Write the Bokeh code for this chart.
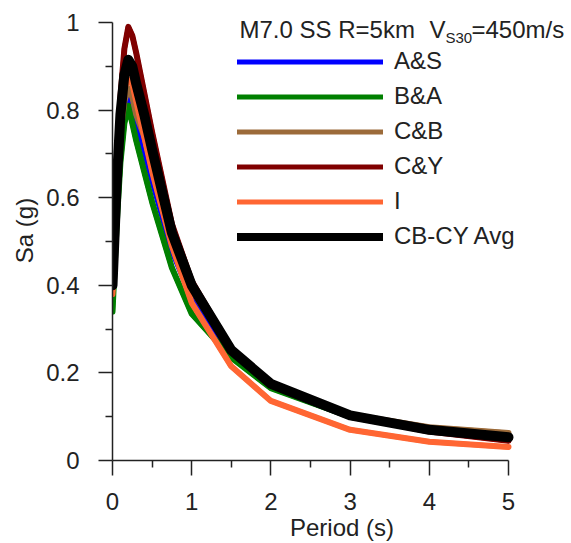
from bokeh.plotting import figure
from bokeh.models import Legend, LegendItem, Label, Range1d, FixedTicker
from bokeh.embed import file_html
from bokeh.resources import INLINE

# ---- data ----
period = [0.0, 0.05, 0.1, 0.15, 0.2, 0.25, 0.3, 0.4, 0.5, 0.75, 1.0, 1.5, 2.0, 3.0, 4.0, 5.0]
sa_as   = [0.37, 0.57, 0.73, 0.80, 0.84, 0.81, 0.77, 0.71, 0.64, 0.48, 0.370, 0.240, 0.168, 0.100, 0.070, 0.055]
sa_ba   = [0.34, 0.53, 0.68, 0.77, 0.81, 0.77, 0.73, 0.66, 0.59, 0.44, 0.335, 0.235, 0.165, 0.100, 0.068, 0.050]
sa_cb   = [0.39, 0.60, 0.75, 0.82, 0.85, 0.83, 0.79, 0.74, 0.67, 0.50, 0.390, 0.248, 0.172, 0.105, 0.076, 0.063]
sa_cy   = [0.41, 0.64, 0.83, 0.94, 0.99, 0.97, 0.93, 0.84, 0.75, 0.54, 0.410, 0.255, 0.178, 0.102, 0.066, 0.045]
sa_i    = [0.38, 0.60, 0.77, 0.85, 0.87, 0.86, 0.82, 0.74, 0.66, 0.49, 0.360, 0.215, 0.136, 0.070, 0.043, 0.031]
sa_avg  = [0.40, 0.62, 0.79, 0.88, 0.915, 0.90, 0.86, 0.79, 0.71, 0.52, 0.400, 0.252, 0.175, 0.103, 0.070, 0.053]

series_names = ["A&S", "B&A", "C&B", "C&Y", "I", "CB-CY Avg"]
series_colors = ["#0000FF", "#008000", "#9C6B3A", "#800000", "#FF6633", "#000000"]
curve_widths = [6, 6, 6, 6, 6, 10]
legend_widths = [5, 5, 5, 5, 5, 8]

x_ticks = [0, 1, 2, 3, 4, 5]
x_minor = [0.5, 1.5, 2.5, 3.5, 4.5]
y_ticks = [0, 0.2, 0.4, 0.6, 0.8, 1]
y_tick_labels = ["0", "0.2", "0.4", "0.6", "0.8", "1"]
y_minor = [0.1, 0.3, 0.5, 0.7, 0.9]

FONT = "Liberation Sans"
TXT = "#222222"

# the frame reaches the right and top edges so the title text is never clipped;
# the axes themselves are bounded to 0..5 and 0..1
x_end = 5 + 63 / 79.2
y_end = 1 + 22 / 438

p = figure(width=571, height=543, output_backend="svg", toolbar_location=None,
           x_range=Range1d(0, x_end), y_range=Range1d(0, y_end),
           min_border_left=112, min_border_right=0, min_border_top=0, min_border_bottom=83)
p.outline_line_color = None
p.grid.visible = False
p.background_fill_color = "white"
p.border_fill_color = "white"

legend_items = []
for vals, name, col, w, lw in zip([sa_as, sa_ba, sa_cb, sa_cy, sa_i, sa_avg],
                                  series_names, series_colors, curve_widths, legend_widths):
    # thinner twin (hidden under the curve) that supplies the legend swatch
    proxy = p.line(period, vals, line_color=col, line_width=lw, line_cap="round")
    p.line(period, vals, line_color=col, line_width=w, line_join="round", line_cap="round")
    legend_items.append(LegendItem(label=name, renderers=[proxy]))

for ax in (p.xaxis[0], p.yaxis[0]):
    ax.axis_line_color = TXT
    ax.axis_line_width = 1.5
    ax.major_tick_line_color = TXT
    ax.minor_tick_line_color = TXT
    ax.major_tick_line_width = 1.5
    ax.minor_tick_line_width = 1.5
    ax.major_tick_in = 0
    ax.minor_tick_in = 0
    ax.major_label_text_font = FONT
    ax.major_label_text_font_size = "24px"
    ax.major_label_text_color = TXT
    ax.axis_label_text_font = FONT
    ax.axis_label_text_font_size = "24px"
    ax.axis_label_text_font_style = "normal"
    ax.axis_label_text_color = TXT

p.xaxis.bounds = (0, 5)
p.yaxis.bounds = (0, 1)
p.xaxis.ticker = FixedTicker(ticks=x_ticks, minor_ticks=x_minor)
p.yaxis.ticker = FixedTicker(ticks=y_ticks, minor_ticks=y_minor)
p.yaxis.major_label_overrides = {t: l for t, l in zip(y_ticks, y_tick_labels)}
p.xaxis.major_tick_out = 15
p.xaxis.minor_tick_out = 7
p.yaxis.major_tick_out = 14
p.yaxis.minor_tick_out = 7
p.xaxis.major_label_standoff = 17
p.yaxis.major_label_standoff = 19
p.xaxis.axis_label = "Period (s)"
p.yaxis.axis_label = "Sa (g)"
p.xaxis.axis_label_standoff = 1
p.yaxis.axis_label_standoff = 5

legend = Legend(items=legend_items,
                location=(125, 210), glyph_width=146, glyph_height=27, label_height=27,
                spacing=7, padding=0, margin=0, label_standoff=11,
                label_text_font=FONT, label_text_font_size="24px", label_text_color=TXT,
                border_line_alpha=0, background_fill_alpha=0)
p.add_layout(legend)

title_kw = dict(x_units="screen", y_units="screen", text_font=FONT, text_color=TXT,
                text_baseline="middle")
p.add_layout(Label(x=127, y=431, text="M7.0 SS R=5km", text_font_size="24px", **title_kw))
p.add_layout(Label(x=317, y=431, text="V", text_font_size="24px", **title_kw))
p.add_layout(Label(x=333, y=423, text="S30", text_font_size="15px", **title_kw))
p.add_layout(Label(x=359, y=431, text="=450m/s", text_font_size="24px", **title_kw))

open("out.html", "w").write(file_html(p, INLINE))
